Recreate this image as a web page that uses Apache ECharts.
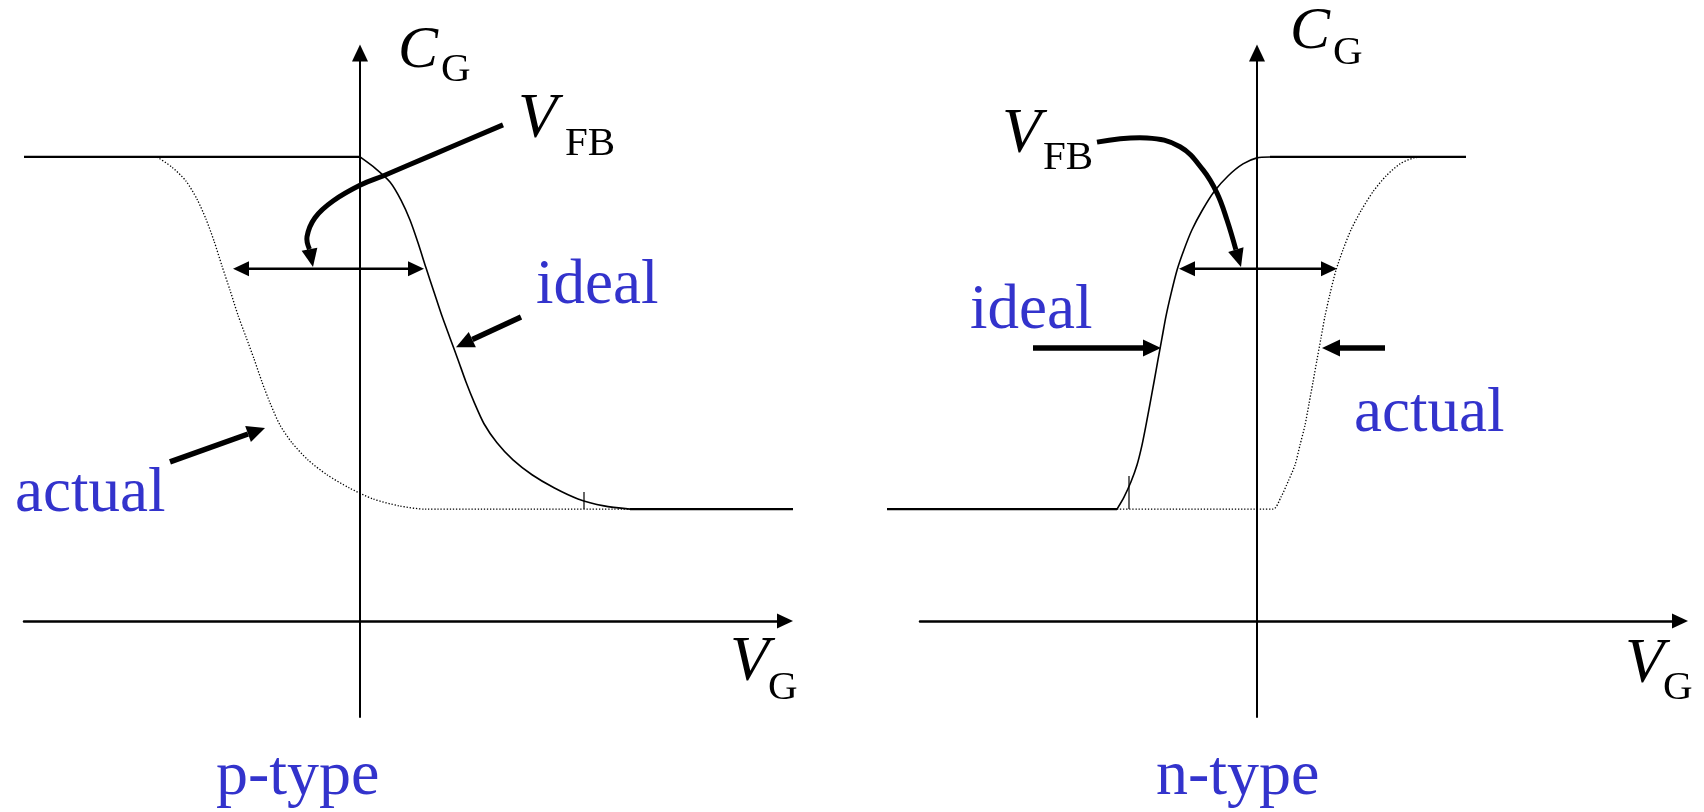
<!DOCTYPE html>
<html>
<head>
<meta charset="utf-8">
<script src="https://cdn.jsdelivr.net/npm/echarts@6/dist/echarts.min.js"></script>
<style>
  html, body { margin: 0; padding: 0; background: #fff; }
  #chart { width: 1704px; height: 812px; }
</style>
</head>
<body>
<div id="chart"></div>
<script>
// Gate voltage V in arbitrary units (0 = C_G axis), capacitance C normalised to C_ox.

// ---- p-type MOS capacitor ----
const pTopV = [-3.36, 0];
const pTopC = [1, 1];
const pBottomV = [2.70, 4.33];
const pBottomC = [0.241, 0.241];
const pIdealV = [0, 0.15, 0.30, 0.41, 0.50, 0.58, 0.66, 0.74, 0.82, 0.90, 0.98, 1.06, 1.14, 1.24, 1.37, 1.53, 1.72, 1.94, 2.18, 2.44, 2.70];
const pIdealC = [1.0, 0.976, 0.946, 0.907, 0.864, 0.815, 0.761, 0.709, 0.657, 0.610, 0.563, 0.515, 0.472, 0.425, 0.384, 0.347, 0.315, 0.287, 0.263, 0.248, 0.241];
const pActualV = [-2.03, -1.88, -1.74, -1.63, -1.54, -1.46, -1.38, -1.30, -1.22, -1.14, -1.06, -0.98, -0.90, -0.80, -0.68, -0.52, -0.33, -0.11, 0.13, 0.39, 0.65, 2.70];
const pActualC = [1.0, 0.978, 0.948, 0.909, 0.866, 0.819, 0.765, 0.713, 0.659, 0.612, 0.565, 0.515, 0.470, 0.422, 0.384, 0.347, 0.315, 0.287, 0.263, 0.248, 0.241, 0.241];
const pTickV = [2.24, 2.24];
const pTickC = [0.241, 0.278];

// ---- n-type MOS capacitor ----
const nBottomV = [-3.70, -1.40];
const nBottomC = [0.241, 0.241];
const nTopV = [0.13, 2.09];
const nTopC = [1, 1];
const nIdealV = [-1.40, -1.33, -1.26, -1.20, -1.15, -1.11, -1.07, -1.03, -0.99, -0.95, -0.91, -0.86, -0.80, -0.73, -0.65, -0.55, -0.43, -0.29, -0.14, 0.0, 0.13];
const nIdealC = [0.241, 0.267, 0.300, 0.336, 0.379, 0.422, 0.468, 0.515, 0.563, 0.610, 0.657, 0.705, 0.756, 0.800, 0.843, 0.884, 0.925, 0.959, 0.985, 0.998, 1.0];
const nActualV = [-1.40, 0.16, 0.24, 0.31, 0.38, 0.43, 0.48, 0.52, 0.56, 0.60, 0.64, 0.68, 0.73, 0.79, 0.86, 0.94, 1.04, 1.16, 1.29, 1.43, 1.57, 1.71];
const nActualC = [0.241, 0.241, 0.267, 0.300, 0.336, 0.379, 0.422, 0.468, 0.515, 0.563, 0.610, 0.657, 0.705, 0.756, 0.800, 0.843, 0.884, 0.925, 0.959, 0.985, 0.998, 1.0];
const nTickV = [-1.28, -1.28];
const nTickC = [0.241, 0.3125];

// ---- annotation arrows (points in V, C) ----
const pShiftArrow = [[-1.27, 0.759], [0.64, 0.759]];
const pFlatBandArrow = [[1.43, 1.069], [0.72, 1.004], [0.23, 0.959], [0.01, 0.940], [-0.27, 0.905], [-0.45, 0.869], [-0.53, 0.828], [-0.47, 0.763]];
const pIdealArrow = [[1.61, 0.655], [0.96, 0.590]];
const pActualArrow = [[-1.90, 0.343], [-0.95, 0.416]];

const nShiftArrow = [[-0.78, 0.759], [0.80, 0.759]];
const nFlatBandArrow = [[-1.60, 1.032], [-1.10, 1.041], [-0.77, 1.022], [-0.54, 0.972], [-0.40, 0.922], [-0.30, 0.864], [-0.16, 0.763]];
const nIdealArrow = [[-2.24, 0.588], [-0.96, 0.588]];
const nActualArrow = [[1.28, 0.588], [0.65, 0.588]];

const zip = (xs, ys) => xs.map((x, i) => [x, ys[i]]);

const BLUE = '#3333cc';
const SERIF = "'Liberation Serif', 'Times New Roman', serif";

const thin = { heads: 'both', width: 2.5, headLen: 16, headWidth: 15, smooth: 0 };
const bold = { heads: 'end', width: 5.5, headLen: 18, headWidth: 17, smooth: 0 };
const curved = { heads: 'end', width: 5, headLen: 18, headWidth: 16, smooth: 0.4 };
const plateau = { heads: 'none', width: 2.2, smooth: 0 };

const pStrokes = [
  Object.assign({ path: zip(pTopV, pTopC) }, plateau),
  Object.assign({ path: zip(pBottomV, pBottomC) }, plateau),
  Object.assign({ path: pShiftArrow }, thin),
  Object.assign({ path: pFlatBandArrow }, curved),
  Object.assign({ path: pIdealArrow }, bold),
  Object.assign({ path: pActualArrow }, bold)
];
const nStrokes = [
  Object.assign({ path: zip(nBottomV, nBottomC) }, plateau),
  Object.assign({ path: zip(nTopV, nTopC) }, plateau),
  Object.assign({ path: nShiftArrow }, thin),
  Object.assign({ path: nFlatBandArrow }, curved),
  Object.assign({ path: nIdealArrow }, bold),
  Object.assign({ path: nActualArrow }, bold)
];

// draws a stroke through the points, with filled heads at the tip (and start for double arrows)
function strokeRenderer(list) {
  return function (params, api) {
    const a = list[params.dataIndex];
    const pts = a.path.map(p => api.coord(p));
    const children = [];
    const head = (tip, from) => {
      const dx = tip[0] - from[0], dy = tip[1] - from[1];
      const L = Math.hypot(dx, dy) || 1;
      const ux = dx / L, uy = dy / L;
      const base = [tip[0] - ux * a.headLen, tip[1] - uy * a.headLen];
      const hw = a.headWidth / 2;
      children.push({
        type: 'polygon',
        shape: { points: [tip, [base[0] - uy * hw, base[1] + ux * hw], [base[0] + uy * hw, base[1] - ux * hw]] },
        style: { fill: '#000', stroke: null }
      });
      return base;
    };
    const shaft = pts.slice();
    const n = shaft.length;
    if (a.heads !== 'none') shaft[n - 1] = head(pts[n - 1], pts[n - 2]);
    if (a.heads === 'both') shaft[0] = head(pts[0], pts[1]);
    children.unshift({
      type: 'polyline',
      shape: { points: shaft, smooth: a.smooth },
      style: { stroke: '#000', lineWidth: a.width, fill: null, lineCap: 'butt', lineJoin: 'round' }
    });
    return { type: 'group', children };
  };
}

function axisPair(grid, min, max) {
  const common = {
    type: 'value',
    gridIndex: grid,
    axisTick: { show: false },
    axisLabel: { show: false },
    splitLine: { show: false }
  };
  return {
    x: Object.assign({}, common, {
      min: min, max: max,
      axisLine: { onZero: true, lineStyle: { color: '#000', width: 2.5 }, symbol: ['none', 'triangle'], symbolSize: [15, 16] }
    }),
    y: Object.assign({}, common, {
      min: -0.207, max: 1.224,
      axisLine: { onZero: true, lineStyle: { color: '#000', width: 2 }, symbol: ['none', 'triangle'], symbolSize: [16, 17] }
    })
  };
}

const left = axisPair(0, -3.36, 4.25);
const right = axisPair(1, -3.37, 4.23);

function line(grid, data, width, dotted) {
  return {
    type: 'line',
    xAxisIndex: grid, yAxisIndex: grid,
    data: data,
    showSymbol: false,
    smooth: 0.25,
    clip: false,
    silent: true,
    lineStyle: { color: '#000', width: width, type: dotted ? [1.3, 1.8] : 'solid' }
  };
}

function strokes(grid, list) {
  return {
    type: 'custom',
    xAxisIndex: grid, yAxisIndex: grid,
    data: list.map(a => a.path[0]),
    renderItem: strokeRenderer(list),
    clip: false,
    silent: true,
    z: 5
  };
}

// text placed by its alphabetic baseline
function label(text, x, baseline, size, opts) {
  opts = opts || {};
  return {
    type: 'text',
    x: x,
    y: baseline - 0.3375 * size,
    silent: true,
    style: {
      text: text,
      font: (opts.italic ? 'italic ' : '') + size + 'px ' + SERIF,
      fill: opts.color || '#000',
      align: 'left', verticalAlign: 'middle',
      textAlign: 'left', textVerticalAlign: 'middle'
    }
  };
}

const chart = echarts.init(document.getElementById('chart'), null, { renderer: 'canvas' });
chart.setOption({
  animation: false,
  backgroundColor: '#fff',
  grid: [
    { left: 24, top: 53, width: 761, height: 664 },
    { left: 920, top: 53, width: 760, height: 664 }
  ],
  xAxis: [left.x, right.x],
  yAxis: [left.y, right.y],
  series: [
    line(0, zip(pActualV, pActualC), 1.3, true),
    line(0, zip(pIdealV, pIdealC), 1.6, false),
    line(0, zip(pTickV, pTickC), 1.2, false),
    strokes(0, pStrokes),

    line(1, zip(nActualV, nActualC), 1.3, true),
    line(1, zip(nIdealV, nIdealC), 1.6, false),
    line(1, zip(nTickV, nTickC), 1.2, false),
    strokes(1, nStrokes)
  ],
  graphic: [
    label('C', 398, 71, 60, { italic: true }),
    label('G', 441, 84, 41),
    label('V', 518, 142, 64, { italic: true }),
    label('FB', 565, 158, 41),
    label('V', 730, 685, 64, { italic: true }),
    label('G', 768, 702, 41),
    label('ideal', 536, 308, 63, { color: BLUE }),
    label('actual', 15, 516, 63, { color: BLUE }),
    label('p-type', 216, 799, 64, { color: BLUE }),

    label('C', 1290, 52, 60, { italic: true }),
    label('G', 1333, 67, 41),
    label('V', 1002, 157, 64, { italic: true }),
    label('FB', 1043, 172, 41),
    label('V', 1625, 687, 64, { italic: true }),
    label('G', 1663, 702, 41),
    label('ideal', 970, 333, 63, { color: BLUE }),
    label('actual', 1354, 436, 63, { color: BLUE }),
    label('n-type', 1156, 799, 64, { color: BLUE })
  ]
});
</script>
</body>
</html>
